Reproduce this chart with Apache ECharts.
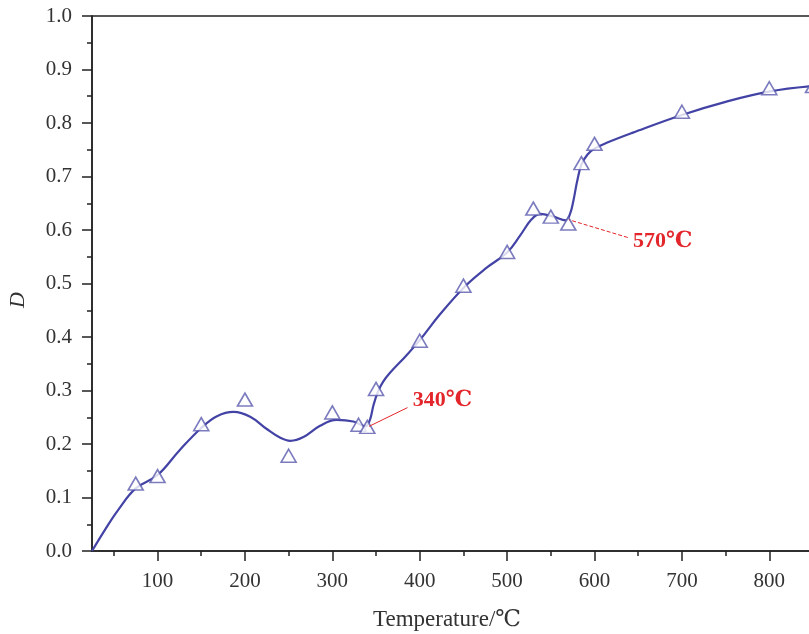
<!DOCTYPE html>
<html>
<head>
<meta charset="utf-8">
<script src="https://cdn.jsdelivr.net/npm/echarts@6/dist/echarts.min.js"></script>
<style>
html,body{margin:0;padding:0;background:#fff;}
#chart{width:809px;height:634px;}
</style>
</head>
<body>
<div id="chart"></div>
<script>
// Measured points (triangles)
const tempMeasured = [75, 100, 150, 200, 250, 300, 330, 340, 350, 400, 450, 500, 530, 550, 570, 585, 600, 700, 800, 850];
const dMeasured = [0.126, 0.140, 0.237, 0.283, 0.178, 0.259, 0.236, 0.232, 0.303, 0.393, 0.496, 0.559, 0.640, 0.625, 0.612, 0.725, 0.761, 0.821, 0.865, 0.869];

// Fitted curve
const fitTemp = [25, 40, 55, 75, 100, 125, 150, 168, 187, 206, 225, 240, 252, 267, 286, 305, 324, 338, 343, 347, 352, 358, 366, 385, 401, 423, 452, 477, 500, 515, 528, 538, 553, 567, 572, 576, 580, 585, 592, 600, 614, 644, 700, 751, 801, 850];
const fitD = [0, 0.040, 0.077, 0.117, 0.142, 0.188, 0.230, 0.252, 0.260, 0.251, 0.228, 0.212, 0.206, 0.213, 0.234, 0.245, 0.242, 0.233, 0.245, 0.272, 0.297, 0.316, 0.333, 0.366, 0.396, 0.442, 0.495, 0.530, 0.558, 0.590, 0.620, 0.630, 0.625, 0.618, 0.630, 0.656, 0.690, 0.722, 0.741, 0.752, 0.763, 0.782, 0.815, 0.840, 0.859, 0.869];

// Tick values
const xMajorTicks = [100, 200, 300, 400, 500, 600, 700, 800];
const xMinorTicks = [50, 150, 250, 350, 450, 550, 650, 750, 850];

// Annotations (data coordinates)
const annoLabels = ['340℃', '570℃'];
const annoText = [[392, 0.282], [644, 0.578]];
const annoArrowStart = [[386, 0.268], [638, 0.586]];
const annoArrowEnd = [[342, 0.233], [571, 0.619]];

const measuredData = tempMeasured.map((t, i) => [t, dMeasured[i]]);
const fitData = fitTemp.map((t, i) => [t, fitD[i]]);

const axisColor = '#222';
const textColor = '#333';
const serif = '"Liberation Serif", "DejaVu Serif", serif';
const red = '#e3262b';

const chart = echarts.init(document.getElementById('chart'), null, {renderer: 'canvas'});
chart.setOption({
  animation: false,
  backgroundColor: '#fff',
  grid: {
    left: 92, width: 721, top: 16, bottom: 83,
    outerBoundsMode: 'none', containLabel: false,
    show: true, borderColor: axisColor, borderWidth: 1.5, backgroundColor: 'transparent'
  },
  xAxis: [{
    type: 'value', min: 25, max: 850, position: 'bottom',
    axisLine: {show: true, lineStyle: {color: axisColor, width: 1.5}},
    axisTick: {show: true, customValues: xMajorTicks, length: 10, lineStyle: {color: axisColor, width: 1.5}},
    axisLabel: {show: true, customValues: xMajorTicks, margin: 20, color: textColor, fontFamily: serif, fontSize: 21},
    splitLine: {show: false}
  }, {
    type: 'value', min: 25, max: 850, position: 'bottom', offset: 0,
    axisLine: {show: false},
    axisTick: {show: true, customValues: xMinorTicks, length: 5, lineStyle: {color: axisColor, width: 1.5}},
    axisLabel: {show: false},
    splitLine: {show: false}
  }],
  yAxis: {
    type: 'value', min: 0, max: 1, interval: 0.1,
    axisLine: {show: true, lineStyle: {color: axisColor, width: 1.5}},
    axisTick: {show: true, length: 10, lineStyle: {color: axisColor, width: 1.5}},
    minorTick: {show: true, splitNumber: 2, length: 5, lineStyle: {color: axisColor, width: 1.5}},
    axisLabel: {margin: 20, color: textColor, fontFamily: serif, fontSize: 21, formatter: v => v.toFixed(1)},
    splitLine: {show: false}
  },
  graphic: [{
    type: 'text', left: 373, top: 608,
    style: {text: 'Temperature/℃', fill: textColor, font: '23px ' + serif}
  }, {
    type: 'text', x: 7, y: 308, rotation: Math.PI / 2,
    style: {text: 'D', fill: textColor, font: 'italic 22px ' + serif}
  }],
  series: [{
    name: 'fit', type: 'line', data: fitData, smooth: 0.4, showSymbol: false, symbol: 'none',
    xAxisIndex: 0, yAxisIndex: 0,
    lineStyle: {color: '#4343a6', width: 2.2}, z: 2,
    markPoint: {
      symbol: 'circle', symbolSize: 0,
      label: {show: true, position: 'right', distance: 0, formatter: '{b}', color: red, fontFamily: serif, fontWeight: 'bold', fontSize: 22},
      data: annoLabels.map((l, i) => ({name: l, coord: annoText[i]}))
    },
    markLine: {
      silent: true, symbol: ['none', 'arrow'], symbolSize: [0, 7],
      label: {show: false},
      lineStyle: {color: red, width: 1, type: 'solid'},
      data: [
        [{coord: annoArrowStart[0]}, {coord: annoArrowEnd[0]}],
        [{coord: annoArrowStart[1], lineStyle: {type: [4, 2], color: red, width: 1}}, {coord: annoArrowEnd[1]}]
      ]
    }
  }, {
    name: 'measured', type: 'scatter', data: measuredData,
    xAxisIndex: 0, yAxisIndex: 0,
    symbol: 'triangle', symbolSize: [15, 13],
    itemStyle: {color: '#fff', borderColor: '#5a5aae', borderWidth: 1.6}, z: 3
  }]
});
</script>
</body>
</html>
